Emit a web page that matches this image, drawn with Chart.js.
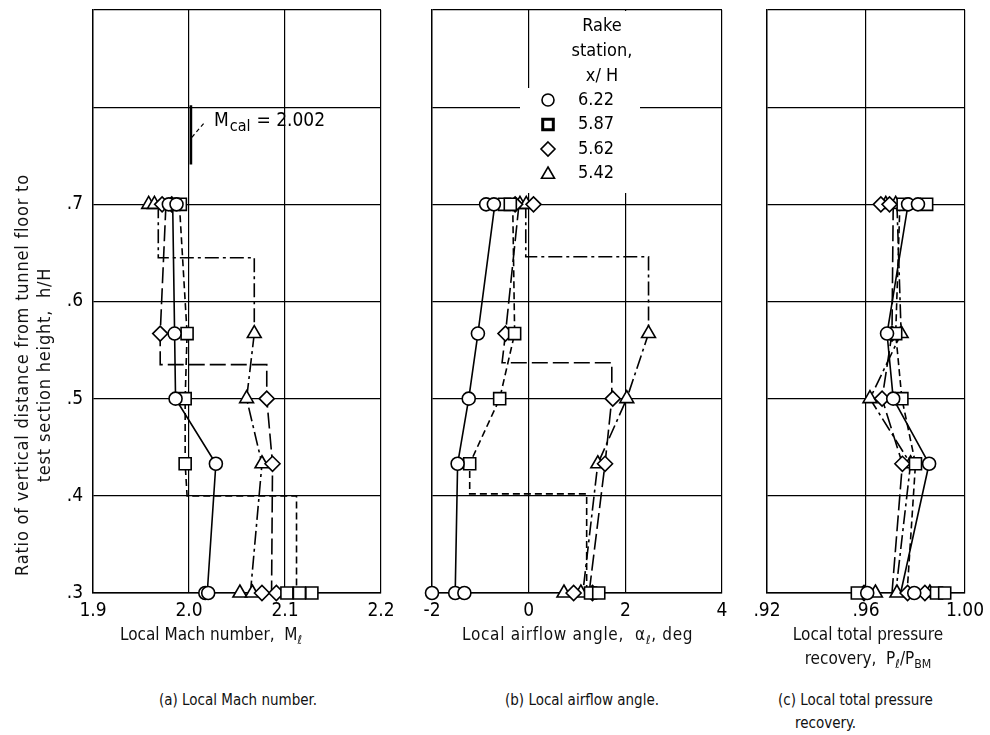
<!DOCTYPE html>
<html>
<head>
<meta charset="utf-8">
<script src="https://cdn.jsdelivr.net/npm/chart.js@4.4.1/dist/chart.umd.min.js"></script>
<style>
  body { margin: 0; background: #fff; }
  #fig { position: relative; width: 990px; height: 735px; overflow: hidden; background: #fff;
         font-family: 'DejaVu Sans Condensed', 'DejaVu Sans', sans-serif; color: #111; }
  canvas { position: absolute; top: 0; }
  .t { position: absolute; white-space: nowrap; }
  .axt { font-size: 17px; line-height: 24px; }
  .cap { font-size: 15px; line-height: 23px; }
  sub { font-size: 72%; vertical-align: -0.35em; line-height: 0; }
</style>
</head>
<body>
<div id="fig">
  <canvas id="chartMach" width="360" height="630" style="left:40px"></canvas>
  <canvas id="chartAngle" width="340" height="630" style="left:400px"></canvas>
  <canvas id="chartRecovery" width="250" height="630" style="left:740px"></canvas>

  <div class="t axt" style="left:-217px;top:353px;width:500px;height:44px;line-height:22px;font-size:18px;letter-spacing:0.8px;text-align:center;transform:rotate(-90deg)">Ratio of vertical distance from tunnel floor to<br>test section height,&nbsp; h/H</div>

  <div class="t axt" style="left:120px;top:622px">Local Mach number,&nbsp; M<sub>ℓ</sub></div>
  <div class="t axt" style="left:462px;top:622px;letter-spacing:0.7px">Local airflow angle,&nbsp; α<sub>ℓ</sub>, deg</div>
  <div class="t axt" style="left:768px;top:622px;width:200px;text-align:center">Local total pressure<br>recovery,&nbsp; P<sub>ℓ</sub>/P<sub>BM</sub></div>

  <div class="t cap" style="left:138px;top:689px;width:200px;text-align:center">(a) Local Mach number.</div>
  <div class="t cap" style="left:482px;top:689px;width:200px;text-align:center">(b) Local airflow angle.</div>
  <div class="t cap" style="left:795px;top:689px;text-indent:-17px;white-space:normal;width:190px">(c) Local total pressure recovery.</div>
</div>

<script>
// ---- heights at which the rakes were read (h/H) ----
// markers: local values per rake station; *LineX/*LineH: faired curve through them

// (a) Local Mach number
const machCircleX   = [1.979, 1.987, 1.985, 1.986, 2.028, 2.017, 2.020];
const machCircleH   = [0.70, 0.70, 0.567, 0.50, 0.433, 0.30, 0.30];
const machCircleLineX = [1.983, 1.985, 1.986, 2.028, 2.019];
const machCircleLineH = [0.70, 0.567, 0.50, 0.433, 0.30];

const machSquareX   = [1.991, 1.998, 1.996, 1.996, 2.102, 2.115, 2.128];
const machSquareH   = [0.70, 0.567, 0.50, 0.433, 0.30, 0.30, 0.30];
const machSquareLineX = [1.990, 1.998, 1.996, 1.996, 1.998, 2.112, 2.112];
const machSquareLineH = [0.70, 0.567, 0.50, 0.433, 0.40, 0.40, 0.30];

const machDiamondX  = [1.972, 1.982, 1.970, 2.081, 2.087, 2.076, 2.091];
const machDiamondH  = [0.70, 0.70, 0.567, 0.50, 0.433, 0.30, 0.30];
const machDiamondLineX = [1.976, 1.970, 1.970, 2.081, 2.081, 2.087, 2.086];
const machDiamondLineH = [0.70, 0.567, 0.535, 0.535, 0.50, 0.433, 0.30];

const machTriangleX = [1.958, 1.964, 2.068, 2.060, 2.076, 2.053, 2.066];
const machTriangleH = [0.70, 0.70, 0.567, 0.50, 0.433, 0.30, 0.30];
const machTriangleLineX = [1.968, 1.968, 2.068, 2.068, 2.060, 2.076, 2.064];
const machTriangleLineH = [0.70, 0.645, 0.645, 0.567, 0.50, 0.433, 0.30];

const machCal = 2.002;               // calibration Mach number
const machCalH = [0.802, 0.741];

// (b) Local airflow angle, deg
const angleCircleX   = [-0.88, -0.72, -1.05, -1.24, -1.47, -2.00, -1.52, -1.33];
const angleCircleH   = [0.70, 0.70, 0.567, 0.50, 0.433, 0.30, 0.30, 0.30];
const angleCircleLineX = [-0.70, -1.05, -1.24, -1.47, -1.52];
const angleCircleLineH = [0.70, 0.567, 0.50, 0.433, 0.30];

const angleSquareX   = [-0.50, -0.38, -0.29, -0.60, -1.22, 1.28, 1.45];
const angleSquareH   = [0.70, 0.70, 0.567, 0.50, 0.433, 0.30, 0.30];
const angleSquareLineX = [-0.33, -0.29, -0.60, -1.22, -1.22, 1.20, 1.20];
const angleSquareLineH = [0.70, 0.567, 0.50, 0.433, 0.402, 0.402, 0.30];

const angleDiamondX  = [-0.28, 0.10, -0.48, 1.74, 1.58, 0.93, 1.32];
const angleDiamondH  = [0.70, 0.70, 0.567, 0.50, 0.433, 0.30, 0.30];
const angleDiamondLineX = [-0.20, -0.48, -0.55, 1.72, 1.72, 1.58, 1.25];
const angleDiamondLineH = [0.70, 0.567, 0.537, 0.537, 0.50, 0.433, 0.30];

const angleTriangleX = [-0.18, -0.05, 2.48, 2.03, 1.43, 0.73, 1.08];
const angleTriangleH = [0.70, 0.70, 0.567, 0.50, 0.433, 0.30, 0.30];
const angleTriangleLineX = [-0.06, -0.06, 2.48, 2.48, 2.03, 1.43, 1.12];
const angleTriangleLineH = [0.70, 0.646, 0.646, 0.567, 0.50, 0.433, 0.30];

// (c) Local total pressure recovery
const recCircleX   = [0.977, 0.981, 0.9685, 0.971, 0.9855, 0.9605, 0.9795];
const recCircleH   = [0.70, 0.70, 0.567, 0.50, 0.433, 0.30, 0.30];
const recCircleLineX = [0.977, 0.9685, 0.971, 0.9855, 0.974];
const recCircleLineH = [0.70, 0.567, 0.50, 0.433, 0.30];

const recSquareX   = [0.975, 0.9845, 0.972, 0.9745, 0.980, 0.9565, 0.9885, 0.9918];
const recSquareH   = [0.70, 0.70, 0.567, 0.50, 0.433, 0.30, 0.30, 0.30];
const recSquareLineX = [0.9737, 0.972, 0.9745, 0.980, 0.9766];
const recSquareLineH = [0.70, 0.567, 0.50, 0.433, 0.30];

const recDiamondX  = [0.966, 0.9695, 0.9705, 0.9665, 0.9747, 0.9592, 0.9768, 0.9838];
const recDiamondH  = [0.70, 0.70, 0.567, 0.50, 0.433, 0.30, 0.30, 0.30];
const recDiamondLineX = [0.971, 0.9705, 0.9665, 0.9747, 0.9705];
const recDiamondLineH = [0.70, 0.567, 0.50, 0.433, 0.30];

const recTriangleX = [0.968, 0.972, 0.9742, 0.9616, 0.978, 0.9638, 0.9725, 0.9858];
const recTriangleH = [0.70, 0.70, 0.567, 0.50, 0.433, 0.30, 0.30, 0.30];
const recTriangleLineX = [0.9725, 0.9742, 0.9616, 0.978, 0.972];
const recTriangleLineH = [0.70, 0.567, 0.50, 0.433, 0.30];

// legend
const rakeStations = ['6.22', '5.87', '5.62', '5.42'];
const legendTitle = ['Rake', 'station,', 'x/ H'];

// ---- drawing ----
const FAM = "'DejaVu Sans Condensed','DejaVu Sans',sans-serif";
Chart.defaults.font.family = FAM;
Chart.defaults.color = '#000';

const styles = {
  circle:   { shape: 'circle',   r: 6.5, dash: [] },
  square:   { shape: 'rect',     r: 8.5, dash: [7, 4] },
  diamond:  { shape: 'rectRot',  r: 7.5, dash: [16, 5] },
  triangle: { shape: 'triangle', r: 8,   dash: [14, 4, 3, 4] }
};

function pts(xs, hs) { return xs.map((x, i) => ({ x: x, y: hs[i] })); }

function markerSet(xs, hs, st) {
  return { data: pts(xs, hs), showLine: false, pointStyle: st.shape, pointRadius: st.r,
           pointBorderWidth: 1.6, pointBackgroundColor: '#fff', pointBorderColor: '#000',
           order: 1, clip: false };
}
function lineSet(xs, hs, dash, width) {
  return { data: pts(xs, hs), showLine: true, borderColor: '#000', borderWidth: width || 1.6,
           borderDash: dash, pointRadius: 0, fill: false, tension: 0, order: 2, clip: false };
}

function gridOpts() { return { color: '#000', lineWidth: 1.2, drawTicks: false }; }
function borderOpts() { return { color: '#000', width: 1.4 }; }
function noPad(s) { s.paddingTop = 0; s.paddingBottom = 0; s.paddingLeft = 0; s.paddingRight = 0; }

function makeChart(id, xMin, xMax, xStep, xFmt, showY, pad, datasets, plugins) {
  return new Chart(document.getElementById(id), {
    type: 'scatter',
    data: { datasets: datasets },
    options: {
      responsive: false, animation: false, events: [],
      layout: { autoPadding: false, padding: pad },
      plugins: { legend: { display: false }, tooltip: { enabled: false } },
      scales: {
        x: { type: 'linear', min: xMin, max: xMax,
             ticks: { stepSize: xStep, padding: 7, font: { size: 19 }, color: '#000', callback: xFmt },
             grid: gridOpts(), border: borderOpts(),
             afterFit(s) { s.height = 37; noPad(s); } },
        y: { type: 'linear', min: 0.3, max: 0.9,
             ticks: { display: showY, stepSize: 0.1, padding: 10, font: { size: 19 }, color: '#000',
                      callback: v => (v < 0.75 ? '.' + Math.round(v * 10) : '') },
             grid: gridOpts(), border: borderOpts(),
             afterFit(s) { s.width = showY ? 53 : 0; noPad(s); } }
      }
    },
    plugins: plugins || []
  });
}

function stationSets(c, cl, s, sl, d, dl, t, tl) {
  return [
    lineSet(cl[0], cl[1], styles.circle.dash),
    lineSet(sl[0], sl[1], styles.square.dash),
    lineSet(dl[0], dl[1], styles.diamond.dash),
    lineSet(tl[0], tl[1], styles.triangle.dash),
    markerSet(c[0], c[1], styles.circle),
    markerSet(s[0], s[1], styles.square),
    markerSet(d[0], d[1], styles.diamond),
    markerSet(t[0], t[1], styles.triangle)
  ];
}

// M_cal annotation text
const calLabel = {
  id: 'calLabel',
  afterDraw(chart) {
    const ctx = chart.ctx, xs = chart.scales.x, ys = chart.scales.y;
    const x = xs.getPixelForValue(2.026), y = ys.getPixelForValue(0.786);
    ctx.save();
    ctx.fillStyle = '#000';
    ctx.textBaseline = 'middle';
    ctx.font = '19px ' + FAM;
    ctx.fillText('M', x, y);
    let w = ctx.measureText('M').width + 1;
    ctx.font = '16px ' + FAM;
    ctx.fillText('cal', x + w, y + 6);
    w += ctx.measureText('cal').width + 6;
    ctx.font = '19px ' + FAM;
    ctx.fillText('= ' + machCal.toFixed(3), x + w, y);
    ctx.restore();
  }
};

function drawShape(ctx, shape, x, y, r) {
  ctx.beginPath();
  if (shape === 'circle') {
    ctx.arc(x, y, r, 0, Math.PI * 2);
  } else if (shape === 'rect') {
    const h = r * Math.SQRT1_2;
    ctx.rect(x - h, y - h, 2 * h, 2 * h);
  } else if (shape === 'rectRot') {
    ctx.moveTo(x, y - r); ctx.lineTo(x + r, y); ctx.lineTo(x, y + r); ctx.lineTo(x - r, y);
    ctx.closePath();
  } else {
    ctx.moveTo(x, y - r); ctx.lineTo(x + 0.866 * r, y + 0.5 * r); ctx.lineTo(x - 0.866 * r, y + 0.5 * r);
    ctx.closePath();
  }
  ctx.fill(); ctx.stroke();
}

// rake-station key inside the angle panel
const rakeKey = {
  id: 'rakeKey',
  afterDraw(chart) {
    const ctx = chart.ctx, a = chart.chartArea;
    ctx.save();
    ctx.fillStyle = '#fff';
    ctx.fillRect(a.left + 100, a.top + 1, 108, 90);
    ctx.fillRect(a.left + 88, a.top + 78, 120, 105);
    ctx.fillStyle = '#000';
    ctx.font = '18px ' + FAM;
    ctx.textAlign = 'center';
    ctx.textBaseline = 'middle';
    legendTitle.forEach((s, i) => ctx.fillText(s, a.left + 170, a.top + 16 + i * 25));
    const order = [styles.circle, styles.square, styles.diamond, styles.triangle];
    ctx.textAlign = 'left';
    rakeStations.forEach((s, i) => {
      const y = a.top + 90 + i * 24.5;
      ctx.fillStyle = '#fff'; ctx.strokeStyle = '#000';
      ctx.lineWidth = i === 1 ? 3 : 1.6;
      const st = order[i];
      drawShape(ctx, st.shape, a.left + 116, st.shape === 'triangle' ? y + 1 : y, st.shape === 'rect' ? 7.5 : st.r - 0.5);
      ctx.fillStyle = '#000';
      ctx.fillText(s, a.left + 146, y);
    });
    ctx.restore();
  }
};

makeChart('chartMach', 1.9, 2.2, 0.1, v => v.toFixed(1), true,
  { top: 10, right: 19, left: 0, bottom: 0 },
  stationSets(
    [machCircleX, machCircleH], [machCircleLineX, machCircleLineH],
    [machSquareX, machSquareH], [machSquareLineX, machSquareLineH],
    [machDiamondX, machDiamondH], [machDiamondLineX, machDiamondLineH],
    [machTriangleX, machTriangleH], [machTriangleLineX, machTriangleLineH]
  ).concat([
    lineSet([machCal, machCal], machCalH, [], 2.6),
    lineSet([2.003, 2.016], [0.769, 0.784], [4, 3], 1.2)
  ]),
  [calLabel]);

makeChart('chartAngle', -2, 4, 2, v => String(v), false,
  { top: 10, right: 18, left: 32, bottom: 0 },
  stationSets(
    [angleCircleX, angleCircleH], [angleCircleLineX, angleCircleLineH],
    [angleSquareX, angleSquareH], [angleSquareLineX, angleSquareLineH],
    [angleDiamondX, angleDiamondH], [angleDiamondLineX, angleDiamondLineH],
    [angleTriangleX, angleTriangleH], [angleTriangleLineX, angleTriangleLineH]
  ),
  [rakeKey]);

makeChart('chartRecovery', 0.92, 1.0, 0.04, v => (v > 0.999 ? '1.00' : '.' + Math.round(v * 100)), false,
  { top: 10, right: 25, left: 27, bottom: 0 },
  stationSets(
    [recCircleX, recCircleH], [recCircleLineX, recCircleLineH],
    [recSquareX, recSquareH], [recSquareLineX, recSquareLineH],
    [recDiamondX, recDiamondH], [recDiamondLineX, recDiamondLineH],
    [recTriangleX, recTriangleH], [recTriangleLineX, recTriangleLineH]
  ));
</script>
</body>
</html>
